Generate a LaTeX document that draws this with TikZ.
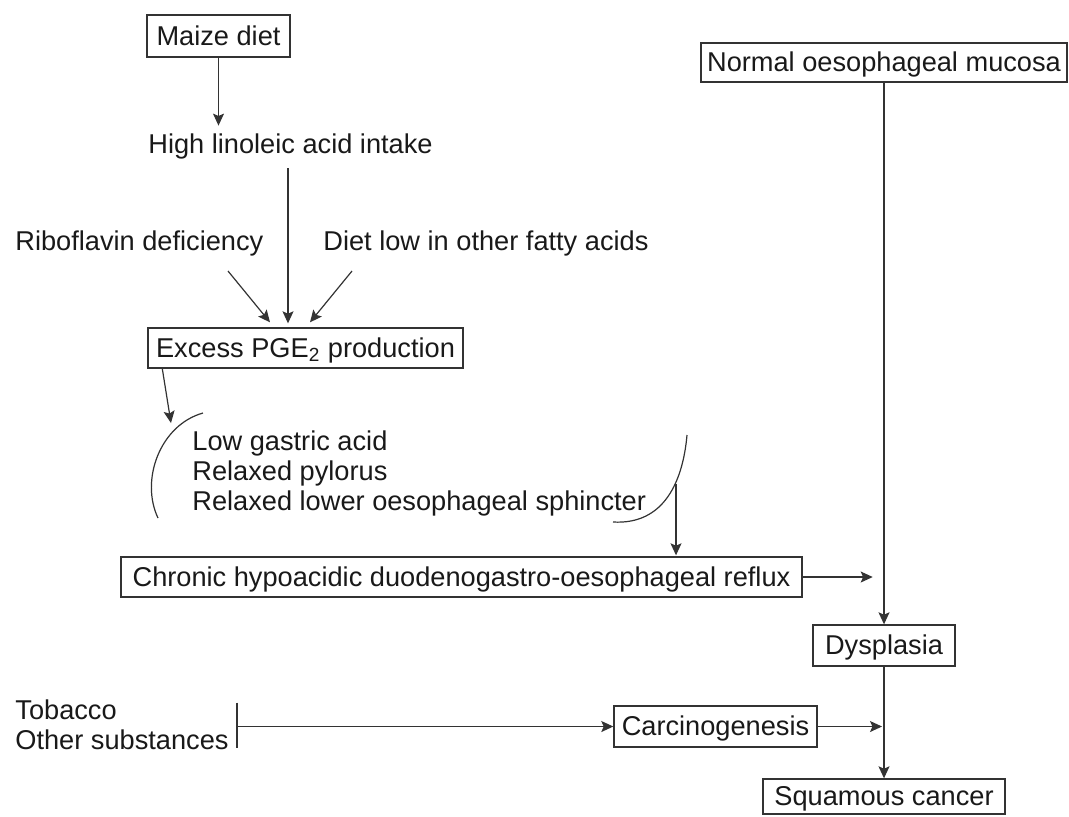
\documentclass[tikz,border=0pt]{standalone}
\usepackage{fontspec}
\setmainfont{Liberation Sans}
\usetikzlibrary{arrows.meta,calc}
\begin{document}
\begin{tikzpicture}[x=0.5pt,y=-0.5pt,
  every node/.style={font=\fontsize{13.6pt}{15pt}\selectfont, text=black!90, inner sep=0pt, text height=10pt, text depth=1pt},
  box/.style={draw=black!80, line width=0.7pt},
  lbl/.style={anchor=base west},
  ln/.style={draw=black!80, line width=0.6pt},
  arr/.style={ln, -{Stealth[length=6pt,width=5.5pt,inset=1.2pt]}}
]
\useasboundingbox (0,0) rectangle (1069,816);

% boxes
\node[box, minimum width=71.5pt, minimum height=21pt] (maize) at (218.5,36) {Maize diet};
\node[box, minimum width=157.5pt, minimum height=20pt] (pge) at (305.5,348) {Excess PGE\textsubscript{2} production};
\node[box, minimum width=340.5pt, minimum height=20pt] (chronic) at (461.5,577) {Chronic hypoacidic duodenogastro-oesophageal reflux};
\node[box, minimum width=183pt, minimum height=19.5pt] (normal) at (884,62.5) {Normal oesophageal mucosa};
\node[box, minimum width=71pt, minimum height=20.5pt] (dys) at (884,645.5) {Dysplasia};
\node[box, minimum width=101.5pt, minimum height=20.5pt] (carc) at (715.5,726.5) {Carcinogenesis};
\node[box, minimum width=121pt, minimum height=17.5pt] (sq) at (884,796.5) {Squamous cancer};

% plain labels
\node[lbl] (high) at (148,153) {High linoleic acid intake};
\node[lbl] (ribo) at (15,250) {Riboflavin deficiency};
\node[lbl] (diet) at (323,250) {Diet low in other fatty acids};
\node[lbl] (l1) at (192,450) {Low gastric acid};
\node[lbl] (l2) at (192,480) {Relaxed pylorus};
\node[lbl] (l3) at (192,510) {Relaxed lower oesophageal sphincter};
\node[lbl] (tob) at (15,719) {Tobacco};
\node[lbl] (oth) at (15,749) {Other substances};

% connectors
\draw[arr] (maize.south) -- ($(maize.south |- high.north)+(0,-7)$);
\coordinate (hx) at (288,168);
\draw[arr] (hx) -- ($(hx |- pge.north)+(0,-4)$);
\coordinate (rb) at (228,271);
\draw[arr] (rb) -- ($(pge.north)+(-35.5,-5)$);
\coordinate (dl) at (352,271);
\draw[arr] (dl) -- ($(pge.north)+(4.5,-5)$);

\coordinate (b1) at (171,423);
\draw[arr] ($(pge.south west)+(15,0)$) -- (b1);
\draw[ln] (203,413) .. controls (160,425) and (140,480) .. (158,518);
\draw[ln] (687,435) .. controls (683,480) and (665,525) .. (613,522);
\coordinate (b2) at (676,484);
\draw[arr] (b2) -- ($(b2 |- chronic.north)+(0,-1)$);

\draw[arr] (chronic.east) -- ($(chronic.east)+(70,0)$);
\draw[arr] (normal.south) -- (dys.north);
\draw[arr] (dys.south) -- (sq.north);
\draw[arr] (carc.east) -- ($(carc.east -| dys.south)+(-2,0)$);

\coordinate (tb) at (237,726.5);
\draw[ln] ($(tb)+(0,-24)$) -- ($(tb)+(0,21)$);
\draw[arr] (tb) -- (carc.west);
\end{tikzpicture}
\end{document}
